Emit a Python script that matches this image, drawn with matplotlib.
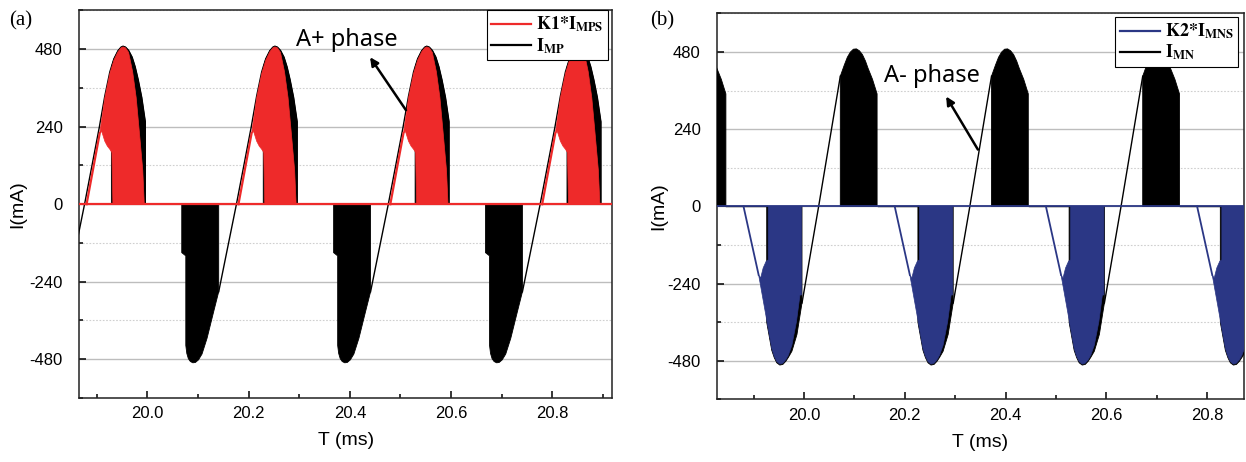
import matplotlib
matplotlib.use("Agg")
import matplotlib.pyplot as plt
from matplotlib.lines import Line2D
from matplotlib.ticker import MultipleLocator

plt.rcParams['mathtext.fontset'] = 'stix'
plt.rcParams['font.family'] = ['Liberation Sans', 'DejaVu Sans']

# ---------------- data ----------------
# rising zero crossings of I_MP (ms); each waveform below is given relative to these
cycle_starts = [19.576, 19.876, 20.176, 20.476, 20.776]

# panel (a): I_MP thin trace within one cycle (tau in ms, current in mA)
imp_line_t = [-0.035, 0.000, 0.029, 0.040, 0.050, 0.058, 0.066, 0.072, 0.076, 0.081, 0.087,
              0.094, 0.100, 0.106, 0.113, 0.120, 0.120, 0.192]
imp_line_v = [-271, 0, 237, 335, 410, 450, 475, 486, 489, 486, 476,
              455, 425, 385, 330, 255, 0, 0]
# panel (a): I_MP switched (dense PWM) region, positive half
imp_pos_t = [0.053, 0.053, 0.058, 0.066, 0.072, 0.076, 0.081, 0.087, 0.094, 0.100, 0.106,
             0.113, 0.120, 0.120]
imp_pos_v = [0, 425, 450, 475, 486, 489, 486, 476, 455, 425, 385, 330, 255, 0]
# panel (a): I_MP switched region, negative half
imp_neg_t = [0.192, 0.192, 0.200, 0.200, 0.202, 0.205, 0.209, 0.214, 0.219, 0.225, 0.232,
             0.242, 0.255, 0.265, 0.265]
imp_neg_v = [0, -150, -160, -437, -462, -478, -487, -491, -490, -482, -464,
             -415, -333, -271, 0]
# panel (a): K1*I_MPS rising trace and switched region
red_trace_t = [0.004, 0.030]
red_trace_v = [0, 220]
red_fill_t = [0.030, 0.036, 0.040, 0.050, 0.058, 0.066, 0.072, 0.076, 0.081, 0.087,
              0.095, 0.102, 0.108, 0.115, 0.118,
              0.056, 0.054, 0.050, 0.045, 0.040, 0.034]
red_fill_v = [220, 285, 330, 405, 446, 472, 484, 487, 484, 470,
              410, 330, 228, 105, 0,
              0, 160, 170, 180, 195, 225]

# panel (b): K2*I_MNS falling trace and switched region
blue_trace_t = [0.004, 0.034]
blue_trace_v = [0, -213]
blue_fill_t = [0.034, 0.045, 0.060, 0.065, 0.070, 0.076, 0.082, 0.088, 0.093, 0.100, 0.109,
               0.116, 0.119, 0.119,
               0.053, 0.053, 0.049, 0.043, 0.038]
blue_fill_v = [-213, -309, -441, -466, -482, -490, -487, -476, -462, -431, -358,
               -275, -275, 0,
               0, -166, -170, -191, -222]
# panel (b): I_MN switched region, negative half
imn_neg_t = [0.050, 0.050, 0.060, 0.065, 0.070, 0.076, 0.082, 0.088, 0.093, 0.100, 0.110,
             0.120, 0.120]
imn_neg_v = [0, -360, -447, -470, -486, -493, -491, -481, -469, -450, -398, -300, 0]
# panel (b): I_MN thin rising trace
imn_line_t = [0.120, 0.153, 0.196]
imn_line_v = [-300, 0, 405]
# panel (b): I_MN switched region, positive half
imn_pos_t = [0.196, 0.196, 0.204, 0.210, 0.216, 0.222, 0.228, 0.234, 0.240, 0.246, 0.251,
             0.260, 0.269, 0.269]
imn_pos_v = [0, 405, 440, 464, 480, 489, 490, 484, 472, 452, 430, 395, 350, 0]

y_ticks = [-480, -240, 0, 240, 480]
x_ticks = [20.0, 20.2, 20.4, 20.6, 20.8]

RED = '#ee2a2a'
BLUE = '#2b3785'


def shift(ts, t0):
    return [t0 + t for t in ts]


fig = plt.figure(figsize=(12.46, 4.62), dpi=100)
axA = fig.add_axes([0.0638, 0.1385, 0.4274, 0.839])
axB = fig.add_axes([0.5757, 0.1353, 0.4223, 0.8355])


def style(ax, xlim, ylabelpad):
    ax.set_xlim(*xlim)
    ax.set_ylim(-600, 600)
    ax.set_xticks(x_ticks)
    ax.set_xticklabels([f"{v:.1f}" for v in x_ticks])
    ax.set_yticks(y_ticks)
    ax.set_yticklabels([str(v) for v in y_ticks])
    ax.xaxis.set_minor_locator(MultipleLocator(0.1))
    ax.yaxis.set_minor_locator(MultipleLocator(120))
    ax.tick_params(which='both', direction='in', top=False, right=False, labelsize=12, width=1.1)
    ax.tick_params(which='major', length=5)
    ax.tick_params(which='minor', length=3)
    ax.tick_params(axis='x', which='major', pad=6)
    ax.tick_params(axis='y', which='major', pad=12)
    ax.grid(True, which='major', axis='y', color='#bdbdbd', lw=1.0, zorder=0)
    ax.grid(True, which='minor', axis='y', color='#cfcfcf', lw=0.8, ls=(0, (1.5, 1.5)), zorder=0)
    ax.set_axisbelow(True)
    for s in ax.spines.values():
        s.set_linewidth(1.1)
        s.set_color('#222222')
    ax.set_xlabel('T (ms)', fontsize=14, labelpad=8)
    ax.set_ylabel('I(mA)', fontsize=14, labelpad=ylabelpad)


ARROW = dict(arrowstyle='-|>', color='k', lw=1.8, mutation_scale=12, shrinkA=0, shrinkB=0)

# ---------------- panel (a) ----------------
axA.axhline(0, color=RED, lw=1.6, zorder=4)
for t0 in cycle_starts:
    axA.fill(shift(imp_pos_t, t0), imp_pos_v, color='k', lw=0.6, zorder=3)
    axA.fill(shift(imp_neg_t, t0), imp_neg_v, color='k', lw=0.6, zorder=3)
    axA.plot(shift(imp_line_t, t0), imp_line_v, color='k', lw=1.0, zorder=3)
    axA.plot(shift(red_trace_t, t0), red_trace_v, color=RED, lw=1.6, zorder=4)
    axA.fill(shift(red_fill_t, t0), red_fill_v, color=RED, lw=0.5, zorder=4)
style(axA, (19.866, 20.918), 2)

axA.text(20.293, 508, 'A+ phase', fontsize=17, family='Noto Sans', va='center', ha='left', zorder=6)
axA.annotate('', xy=(20.44, 455), xytext=(20.511, 291), arrowprops=ARROW, zorder=6)

legA = axA.legend([Line2D([], [], color=RED, lw=1.6), Line2D([], [], color='k', lw=1.6)],
                  [r'$\mathbf{K1{*}I}_{\mathbf{MPS}}$', r'$\mathbf{I}_{\mathbf{MP}}$'],
                  loc='upper right', bbox_to_anchor=(0.993, 1.0), fontsize=13,
                  handlelength=2.2, handletextpad=0.3, borderpad=0.25, labelspacing=0.1,
                  fancybox=False, framealpha=1, edgecolor='k', borderaxespad=0)
legA.get_frame().set_linewidth(0.8)
legA.set_zorder(7)

# ---------------- panel (b) ----------------
axB.axhline(0, color=BLUE, lw=1.3, zorder=4)
for t0 in cycle_starts:
    axB.plot(shift([-0.030, 0.050], t0), [0, 0], color='k', lw=1.0, zorder=3)
    axB.fill(shift(imn_neg_t, t0), imn_neg_v, color='k', lw=0.6, zorder=3)
    axB.plot(shift(imn_line_t, t0), imn_line_v, color='k', lw=1.0, zorder=3)
    axB.fill(shift(imn_pos_t, t0), imn_pos_v, color='k', lw=0.6, zorder=3)
    axB.plot(shift(blue_trace_t, t0), blue_trace_v, color=BLUE, lw=1.3, zorder=4)
    axB.fill(shift(blue_fill_t, t0), blue_fill_v, color=BLUE, lw=0.5, zorder=4)
style(axB, (19.828, 20.872), 0)

axB.text(20.159, 405, 'A- phase', fontsize=17, family='Noto Sans', va='center', ha='left', zorder=6)
axB.annotate('', xy=(20.282, 342), xytext=(20.345, 177), arrowprops=ARROW, zorder=6)

legB = axB.legend([Line2D([], [], color=BLUE, lw=1.6), Line2D([], [], color='k', lw=1.6)],
                  [r'$\mathbf{K2{*}I}_{\mathbf{MNS}}$', r'$\mathbf{I}_{\mathbf{MN}}$'],
                  loc='upper right', bbox_to_anchor=(0.99, 0.99), fontsize=13,
                  handlelength=2.2, handletextpad=0.3, borderpad=0.25, labelspacing=0.1,
                  fancybox=False, framealpha=1, edgecolor='k', borderaxespad=0)
legB.get_frame().set_linewidth(0.8)
legB.set_zorder(7)

fig.text(0.007, 0.945, '(a)', family='Liberation Serif', fontsize=15)
fig.text(0.522, 0.945, '(b)', family='Liberation Serif', fontsize=15)

fig.savefig('out.png', dpi=100)
